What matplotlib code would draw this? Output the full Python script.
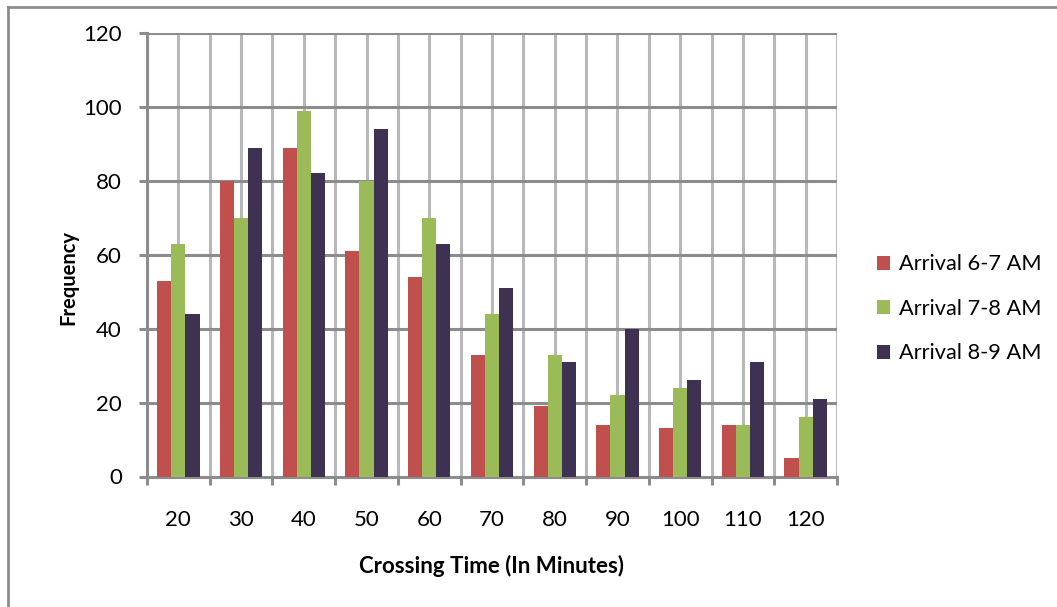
import matplotlib
matplotlib.use("Agg")
import matplotlib.pyplot as plt
from matplotlib.lines import Line2D
import numpy as np

crossing_time = ["20", "30", "40", "50", "60", "70", "80", "90", "100", "110", "120"]
arrival_6_7 = [53, 80, 89, 61, 54, 33, 19, 14, 13, 14, 5]
arrival_7_8 = [63, 70, 99, 80, 70, 44, 33, 22, 24, 14, 16]
arrival_8_9 = [44, 89, 82, 94, 63, 51, 31, 40, 26, 31, 21]

series = [
    ("Arrival 6-7 AM", arrival_6_7, "#C0504D"),
    ("Arrival 7-8 AM", arrival_7_8, "#9BBB59"),
    ("Arrival 8-9 AM", arrival_8_9, "#3F3151"),
]

plt.rcParams["font.family"] = ["Lato", "DejaVu Sans"]

fig = plt.figure(figsize=(10.57, 6.07), dpi=100)
ax = fig.add_axes([147 / 1057, 1 - 476.5 / 607, 690 / 1057, 443.5 / 607])

n = len(crossing_time)
centers = np.arange(n) + 0.5
bar_w = 0.225
for i, (name, vals, col) in enumerate(series):
    ax.bar(centers + (i - 1) * bar_w, vals, width=bar_w, color=col,
           label=name, zorder=3, linewidth=0)

ax.set_xlim(0, n)
ax.set_ylim(0, 120)

# category boundaries carry the tick marks, centres carry the labels
ax.set_xticks(np.arange(n + 1))
ax.set_xticklabels([])
ax.set_xticks(centers, minor=True)
ax.set_xticklabels(crossing_time, minor=True)
ax.tick_params(axis="x", which="major", length=6, width=2.2, color="#8c8c8c",
               direction="out")
ax.tick_params(axis="x", which="minor", length=0, pad=24, labelsize=16)
ax.set_yticks(np.arange(0, 121, 20))
ax.tick_params(axis="y", length=6, width=2.2, color="#8c8c8c", pad=12,
               labelsize=16)

ax.grid(axis="x", which="both", color="#b8b8b8", linewidth=2.2, zorder=1)
ax.grid(axis="y", which="major", color="#8c8c8c", linewidth=2.2, zorder=2)
ax.set_axisbelow(True)

for side in ["top", "right"]:
    ax.spines[side].set_visible(False)
for side in ["left", "bottom"]:
    ax.spines[side].set_color("#8c8c8c")
    ax.spines[side].set_linewidth(2.2)

ax.set_xlabel("Crossing Time (In Minutes)", fontsize=16, fontweight="bold")
ax.xaxis.set_label_coords(0.5, -0.176)
ax.set_ylabel("Frequency", fontsize=14.5, fontweight="bold")
ax.yaxis.set_label_coords(-0.1, 0.448)

ax.legend(loc="center left", bbox_to_anchor=(1.03, 0.378), frameon=False,
          fontsize=15.7, handlelength=0.6, handleheight=0.6,
          handletextpad=0.4, labelspacing=1.12)

# outer chart border
fig.add_artist(Line2D([8 / 1057, 1], [1 - 7 / 607, 1 - 7 / 607],
                      color="#8c8c8c", linewidth=2, transform=fig.transFigure))
fig.add_artist(Line2D([8 / 1057, 8 / 1057], [0, 1 - 7 / 607],
                      color="#8c8c8c", linewidth=2, transform=fig.transFigure))

fig.savefig("out.png", dpi=100)
